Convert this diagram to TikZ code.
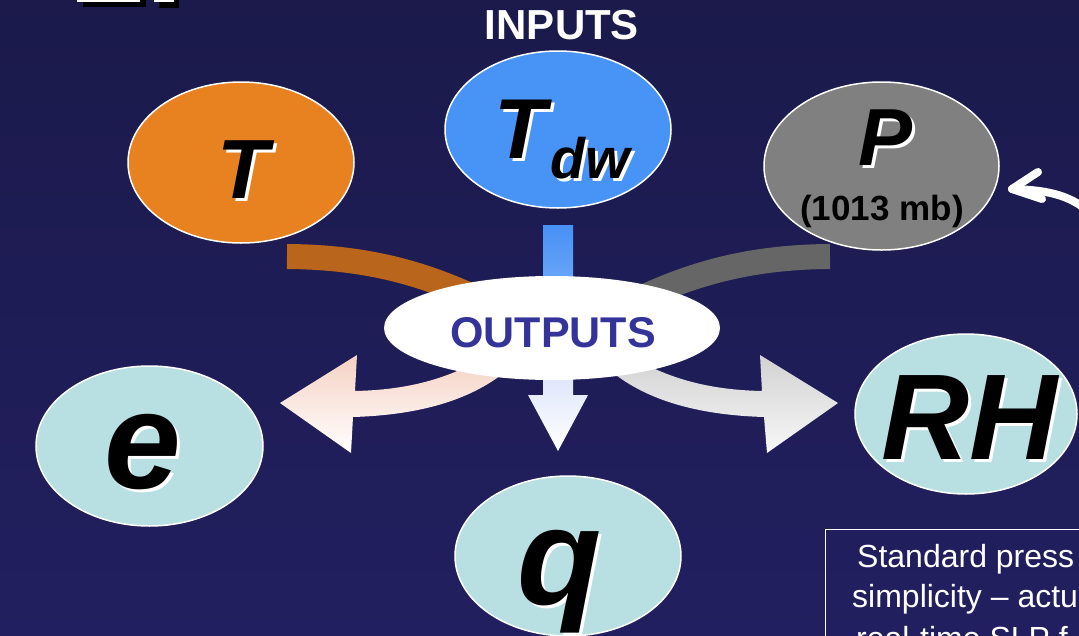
\documentclass[tikz,border=0pt]{standalone}
\usepackage{fontspec}
\setmainfont{Liberation Sans}
\usetikzlibrary{calc,shapes.geometric}
\definecolor{bgtop}{HTML}{1B1A4B}
\definecolor{bgbot}{HTML}{221F60}
\definecolor{orangeE}{HTML}{E8811F}
\definecolor{orangeB}{HTML}{B9661C}
\definecolor{blueE}{HTML}{4894F6}
\definecolor{blueB1}{HTML}{4791F5}
\definecolor{blueB2}{HTML}{6DA8F8}
\definecolor{grayE}{HTML}{808080}
\definecolor{grayB}{HTML}{666666}
\definecolor{cyanE}{HTML}{B8DFE2}
\definecolor{outtxt}{HTML}{333399}
\definecolor{peach}{HTML}{F5D2C3}
\definecolor{lgray}{HTML}{D2D2D2}
\definecolor{lblue}{HTML}{DCE4FA}
\newcommand\shlbl[3]{%
  \node[anchor=base,text=white,inner sep=0pt] at ($(#2)+(3,3)$) {#3};
  \node[anchor=base,text=black,inner sep=0pt] (#1) at (#2) {#3};}
\begin{document}
\begin{tikzpicture}[x=1pt,y=-1pt,
  ell/.style={ellipse, draw=white, line width=1.5pt, inner sep=0pt},
  band/.style={line width=25pt, line cap=butt},
  boxtxt/.style={anchor=base west, text=white, inner sep=0pt, font=\fontsize{32}{32}\selectfont}]
\useasboundingbox (0,0) rectangle (1079,635);
\clip (0,0) rectangle (1079,635);
\path[top color=bgtop, bottom color=bgbot] (0,0) rectangle (1079,635);

% partial title remnants at top left
\fill[black] (83,-5) rectangle (146,7);
\fill[white] (77,-5) rectangle (140,2);
\fill[black] (159,-5) rectangle (179,8);
\fill[white] (154,-5) rectangle (174,2);

% input bands
\coordinate (tb) at (287,256.5);
\coordinate (pb) at (830,256.5);
\coordinate (tbe) at (490,305);
\coordinate (pbe) at (627,305);
\draw[band, orangeB] (tb) .. controls (370,257) and (430,275) .. (tbe);
\draw[band, grayB] (pb) .. controls (747,257) and (687,275) .. (pbe);
\path[top color=blueB1, bottom color=blueB2] (543,225) rectangle (573,290);

% output arrows
\path[top color=peach, bottom color=white]
  (480,360) .. controls (440,382) and (400,390) .. (355,391) -- (357,355) -- (280,403)
  -- (351,453) -- (353,417) .. controls (420,415) and (470,400) .. (505,372) -- cycle;
\path[top color=lgray, bottom color=white!97!black]
  (637,360) .. controls (677,382) and (717,390) .. (762,391) -- (760,355) -- (838,403)
  -- (767,453) -- (764,417) .. controls (697,415) and (647,400) .. (612,372) -- cycle;
\path[top color=lblue, bottom color=white]
  (543,370) -- (573,370) -- (573,395) -- (588,395) -- (558,451) -- (528,395) -- (543,395) -- cycle;

% ellipses
\node[ell, fill=white, draw=none, minimum width=336pt, minimum height=104pt] (out) at (552,328) {};
\node[anchor=base, text=outtxt, font=\bfseries\fontsize{43}{43}\selectfont, inner sep=0pt] (outl) at (553,347) {OUTPUTS};
\node[ell, fill=orangeE, minimum width=226pt, minimum height=161pt] (T) at (241,162.5) {};
\node[ell, fill=blueE, minimum width=226pt, minimum height=157pt] (Tdw) at (558,129.5) {};
\node[ell, fill=grayE, minimum width=235pt, minimum height=168pt] (P) at (881.5,166) {};
\node[ell, fill=cyanE, minimum width=227pt, minimum height=160pt] (e) at (149.5,446) {};
\node[ell, fill=cyanE, minimum width=226pt, minimum height=160pt] (q) at (568,556) {};
\node[ell, fill=cyanE, minimum width=222pt, minimum height=160pt] (RH) at (966,414) {};

\node[anchor=base, text=white, font=\bfseries\fontsize{42}{42}\selectfont, inner sep=0pt] (inputs) at (562,39) {INPUTS};

% letters with white shadow
\shlbl{Tl}{243,198}{\bfseries\itshape\fontsize{84}{84}\selectfont T}
\shlbl{Tdwl}{520,158}{\bfseries\itshape\fontsize{85}{85}\selectfont T}
\shlbl{dwl}{590,178}{\bfseries\itshape\fontsize{57}{57}\selectfont dw}
\shlbl{Pl}{886,165}{\bfseries\itshape\fontsize{81}{81}\selectfont P}
\node[anchor=base, text=black, font=\bfseries\fontsize{35}{35}\selectfont, inner sep=0pt] (pval) at (882,220) {(1013 mb)};
\shlbl{el}{143,488}{\bfseries\itshape\fontsize{138}{138}\selectfont e}
\shlbl{ql}{560,604}{\bfseries\itshape\fontsize{138}{138}\selectfont q}
\shlbl{RHl}{970,459}{\bfseries\itshape\fontsize{122}{122}\selectfont RH}

% arrow pointing to P
\coordinate (pa0) at (1100,225);
\coordinate (pat) at (1012,189);
\draw[white, line width=8pt, line cap=round, line join=round]
  (pa0) .. controls (1080,196) and (1050,190) .. (pat);
\draw[white, line width=8pt, line cap=round, line join=round]
  (1038,172) -- (pat) -- (1042,199);

% note box
\node[draw=white, line width=1.2pt, anchor=north west, minimum width=300pt, minimum height=150pt] (note) at (825,529) {};
\node[boxtxt] at (857,567) {Standard press};
\node[boxtxt] at (852,607) {simplicity – actu};
\node[boxtxt] at (856,649) {real-time SLP f};
\end{tikzpicture}
\end{document}
